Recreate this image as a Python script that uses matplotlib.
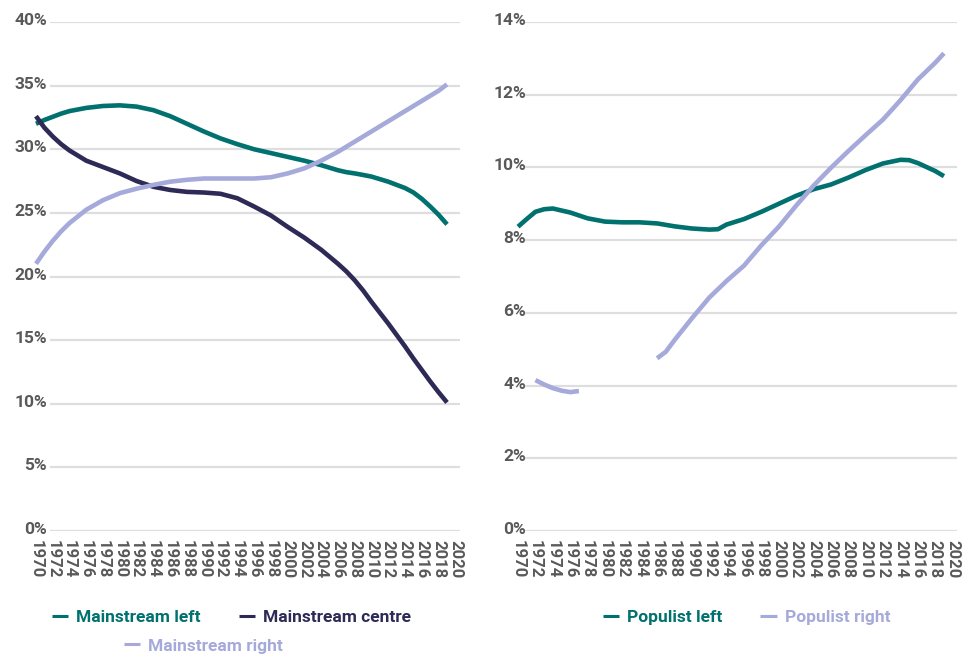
import matplotlib
matplotlib.use("Agg")
import matplotlib.pyplot as plt
from matplotlib.transforms import ScaledTranslation

plt.rcParams['font.family'] = ['Roboto', 'DejaVu Sans']

# ---------------- data ----------------
years_main = [1970, 1971, 1972, 1973, 1974, 1976, 1978, 1980, 1982, 1984, 1986, 1988, 1990, 1992, 1994,
              1996, 1998, 2000, 2002, 2004, 2006, 2007, 2008, 2009, 2010, 2012, 2014, 2015, 2016,
              2017, 2018, 2019]
mainstream_left = [32.0, 32.3, 32.55, 32.8, 33.0, 33.25, 33.4, 33.45, 33.35, 33.07, 32.6, 32.0, 31.4,
                   30.85, 30.4, 30.0, 29.7, 29.4, 29.1, 28.75, 28.35, 28.2, 28.1, 27.98, 27.85, 27.45,
                   26.95, 26.6, 26.1, 25.5, 24.85, 24.1]
mainstream_centre = [32.6, 31.7, 31.0, 30.4, 29.9, 29.1, 28.6, 28.1, 27.5, 27.05, 26.8, 26.65, 26.6,
                     26.5, 26.15, 25.5, 24.8, 23.9, 23.05, 22.1, 21.0, 20.4, 19.7, 18.9, 18.0, 16.3,
                     14.5, 13.55, 12.65, 11.75, 10.9, 10.1]
mainstream_right = [21.0, 21.95, 22.8, 23.55, 24.2, 25.25, 26.0, 26.55, 26.9, 27.2, 27.45, 27.6, 27.7,
                    27.7, 27.7, 27.7, 27.8, 28.1, 28.5, 29.1, 29.8, 30.2, 30.6, 31.0, 31.4, 32.2,
                    33.0, 33.4, 33.8, 34.2, 34.6, 35.1]

years_pop_left = [1970, 1971, 1972, 1973, 1974, 1976, 1978, 1980, 1982, 1984, 1986, 1988, 1990, 1992,
                  1993, 1994, 1996, 1998, 2000, 2002, 2004, 2006, 2008, 2010, 2012, 2014, 2015, 2016,
                  2018, 2019]
populist_left = [8.37, 8.58, 8.78, 8.85, 8.87, 8.76, 8.60, 8.51, 8.49, 8.49, 8.46, 8.38, 8.32, 8.29,
                 8.30, 8.43, 8.58, 8.78, 9.0, 9.22, 9.40, 9.53, 9.72, 9.93, 10.11, 10.21, 10.20, 10.12,
                 9.90, 9.76]

years_pop_right_a = [1972, 1973, 1974, 1975, 1976, 1977]
populist_right_a = [4.15, 4.03, 3.93, 3.86, 3.82, 3.85]
years_pop_right_b = [1986, 1987, 1988, 1990, 1992, 1994, 1996, 1998, 2000, 2002, 2004, 2006,
                     2008, 2010, 2012, 2014, 2016, 2018, 2019]
populist_right_b = [4.75, 4.93, 5.25, 5.85, 6.42, 6.88, 7.30, 7.86, 8.37, 8.95, 9.50, 9.99,
                    10.45, 10.89, 11.32, 11.85, 12.42, 12.88, 13.14]

year_ticks = list(range(1970, 2021, 2))
left_yticks = [0, 5, 10, 15, 20, 25, 30, 35, 40]
right_yticks = [0, 2, 4, 6, 8, 10, 12, 14]

labels_left = ["Mainstream left", "Mainstream centre", "Mainstream right"]
labels_right = ["Populist left", "Populist right"]

# ---------------- style ----------------
TEAL = "#00716F"
NAVY = "#2D2A56"
LAV = "#A5AADB"
GRID = "#DEDEDE"
TXT = "#595959"
LW = 3.3

W, H = 967, 657
fig = plt.figure(figsize=(W / 100, H / 100), dpi=100)


def px_axes(l, r, b, t):
    return fig.add_axes([l / W, 1 - b / H, (r - l) / W, (b - t) / H])


axL = px_axes(34.3, 459.6, 531, 22)
axR = px_axes(516.3, 957.0, 531, 22)


def style(ax, yticks, ymax, grid_start, pad):
    ax.set_xlim(1969.8, 2020.5)
    ax.set_ylim(0, ymax)
    for s in ax.spines.values():
        s.set_visible(False)
    ax.hlines(yticks, grid_start, 2020.5, colors=GRID, linewidth=1.6, zorder=0)
    ax.set_yticks(yticks, [f"{v}%" for v in yticks])
    ax.set_xticks(year_ticks, [str(y) for y in year_ticks])
    ax.tick_params(axis='y', length=0, pad=pad, labelsize=12.5, labelcolor=TXT)
    ax.tick_params(axis='x', length=0, pad=6.5, labelsize=12, labelcolor=TXT)
    for lab in ax.get_yticklabels():
        lab.set_fontweight('bold')
        lab.set_transform(lab.get_transform() + ScaledTranslation(0, 3 / 100, fig.dpi_scale_trans))
    for lab in ax.get_xticklabels():
        lab.set_fontweight('bold')
        lab.set_rotation(-90)
        lab.set_va('top')
        lab.set_ha('center')


style(axL, left_yticks, 40, 1971.67, -9.1)
style(axR, right_yticks, 14, 1970.6, -7.0)

kw = dict(linewidth=LW, solid_capstyle='butt', solid_joinstyle='round', clip_on=False)
lL, = axL.plot(years_main, mainstream_left, color=TEAL, label=labels_left[0], **kw)
lC, = axL.plot(years_main, mainstream_centre, color=NAVY, label=labels_left[1], **kw)
lR, = axL.plot(years_main, mainstream_right, color=LAV, label=labels_left[2], **kw)

pL, = axR.plot(years_pop_left, populist_left, color=TEAL, label=labels_right[0], **kw)
pR, = axR.plot(years_pop_right_a, populist_right_a, color=LAV, label=labels_right[1], **kw)
axR.plot(years_pop_right_b, populist_right_b, color=LAV, **kw)


def add_legend(handles, cx, cy):
    leg = fig.legend(handles=handles, loc='center', bbox_to_anchor=(cx / W, 1 - cy / H),
                     ncol=len(handles), frameon=False, handlelength=0.95, handletextpad=0.45,
                     columnspacing=2.2, labelcolor='linecolor',
                     prop={'weight': 'bold', 'size': 12.5})
    for h in leg.legend_handles:
        h.set_linewidth(2.2)
    return leg


add_legend([lL, lC], 231.5, 617)
add_legend([lR], 203.5, 646)
add_legend([pL, pR], 746.5, 617)

fig.savefig("out.png", dpi=100)
